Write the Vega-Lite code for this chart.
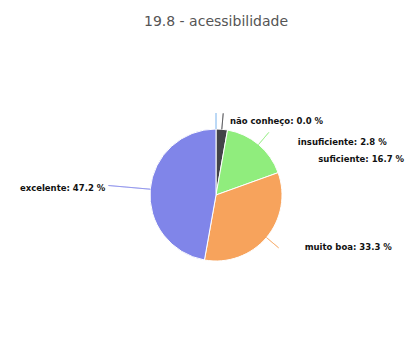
{
  "$schema": "https://vega.github.io/schema/vega-lite/v6.json",
  "width": 414,
  "height": 338,
  "autosize": {"type": "fit", "contains": "padding"},
  "padding": {"left": 18, "right": 0, "top": 15, "bottom": 0},
  "background": "white",
  "title": {"text": "19.8 - acessibilidade", "font": "DejaVu Sans", "fontSize": 14, "fontWeight": "normal", "color": "#555555", "offset": 23, "anchor": "middle"},
  "data": {"values": [
    {"categoria": "não conheço", "valor": 0.0, "ordem": 1, "rotulo": "não conheço: 0.0 %"},
    {"categoria": "insuficiente", "valor": 2.8, "ordem": 2, "rotulo": "insuficiente: 2.8 %"},
    {"categoria": "suficiente", "valor": 16.7, "ordem": 3, "rotulo": "suficiente: 16.7 %"},
    {"categoria": "muito boa", "valor": 33.3, "ordem": 4, "rotulo": "muito boa: 33.3 %"},
    {"categoria": "excelente", "valor": 47.2, "ordem": 5, "rotulo": "excelente: 47.2 %"}
  ]},
  "transform": [
    {"window": [{"op": "sum", "field": "valor", "as": "fim"}], "sort": [{"field": "ordem"}], "frame": [null, 0]},
    {"window": [{"op": "mean", "field": "fim", "as": "meio"}], "sort": [{"field": "ordem"}], "frame": [-1, 0]}
  ],
  "layer": [
    {
      "mark": {"type": "arc", "radius": 66, "stroke": "white", "strokeWidth": 1},
      "encoding": {
        "theta": {"field": "valor", "type": "quantitative", "stack": true, "scale": {"domain": [0, 100]}},
        "color": {"field": "categoria", "type": "nominal", "legend": null,
          "scale": {"domain": ["não conheço", "insuficiente", "suficiente", "muito boa", "excelente"],
                    "range": ["#7cb5ec", "#434348", "#90ed7d", "#f7a35c", "#8085e9"]}},
        "order": {"field": "ordem", "type": "quantitative"}
      }
    },
    {
      "transform": [{"filter": "datum.categoria !== 'excelente'"}],
      "mark": {"type": "arc", "radius": 82, "radius2": 66, "fillOpacity": 0, "strokeWidth": 1, "strokeOpacity": 0.6},
      "encoding": {
        "theta": {"field": "meio", "type": "quantitative", "stack": null},
        "theta2": {"field": "meio"},
        "stroke": {"field": "categoria", "type": "nominal", "legend": null,
          "scale": {"domain": ["não conheço", "insuficiente", "suficiente", "muito boa", "excelente"],
                    "range": ["#7cb5ec", "#434348", "#90ed7d", "#f7a35c", "#8085e9"]}}
      }
    },
    {
      "transform": [{"filter": "datum.categoria === 'excelente'"}],
      "mark": {"type": "arc", "radius": 108, "radius2": 66, "fillOpacity": 0, "strokeWidth": 1, "strokeOpacity": 0.6},
      "encoding": {
        "theta": {"field": "meio", "type": "quantitative", "stack": null},
        "theta2": {"field": "meio"},
        "stroke": {"field": "categoria", "type": "nominal", "legend": null,
          "scale": {"domain": ["não conheço", "insuficiente", "suficiente", "muito boa", "excelente"],
                    "range": ["#7cb5ec", "#434348", "#90ed7d", "#f7a35c", "#8085e9"]}}
      }
    },
    {
      "transform": [{"filter": "datum.categoria === 'não conheço'"}],
      "mark": {"type": "text", "radius": 78, "align": "left", "dx": 14, "dy": 4, "font": "DejaVu Sans", "fontSize": 8.5, "fontWeight": "bold", "color": "#111111"},
      "encoding": {"theta": {"field": "meio", "type": "quantitative", "stack": null}, "text": {"field": "rotulo"}}
    },
    {
      "transform": [{"filter": "datum.categoria === 'insuficiente'"}],
      "mark": {"type": "text", "radius": 78, "align": "left", "dx": 75, "dy": 25, "font": "DejaVu Sans", "fontSize": 8.5, "fontWeight": "bold", "color": "#111111"},
      "encoding": {"theta": {"field": "meio", "type": "quantitative", "stack": null}, "text": {"field": "rotulo"}}
    },
    {
      "transform": [{"filter": "datum.categoria === 'suficiente'"}],
      "mark": {"type": "text", "radius": 78, "align": "left", "dx": 52, "dy": 24, "font": "DejaVu Sans", "fontSize": 8.5, "fontWeight": "bold", "color": "#111111"},
      "encoding": {"theta": {"field": "meio", "type": "quantitative", "stack": null}, "text": {"field": "rotulo"}}
    },
    {
      "transform": [{"filter": "datum.categoria === 'muito boa'"}],
      "mark": {"type": "text", "radius": 78, "align": "left", "dx": 29, "dy": 2, "font": "DejaVu Sans", "fontSize": 8.5, "fontWeight": "bold", "color": "#111111"},
      "encoding": {"theta": {"field": "meio", "type": "quantitative", "stack": null}, "text": {"field": "rotulo"}}
    },
    {
      "transform": [{"filter": "datum.categoria === 'excelente'"}],
      "mark": {"type": "text", "radius": 78, "align": "right", "dx": -33, "dy": 0, "font": "DejaVu Sans", "fontSize": 8.5, "fontWeight": "bold", "color": "#111111"},
      "encoding": {"theta": {"field": "meio", "type": "quantitative", "stack": null}, "text": {"field": "rotulo"}}
    }
  ]
}
